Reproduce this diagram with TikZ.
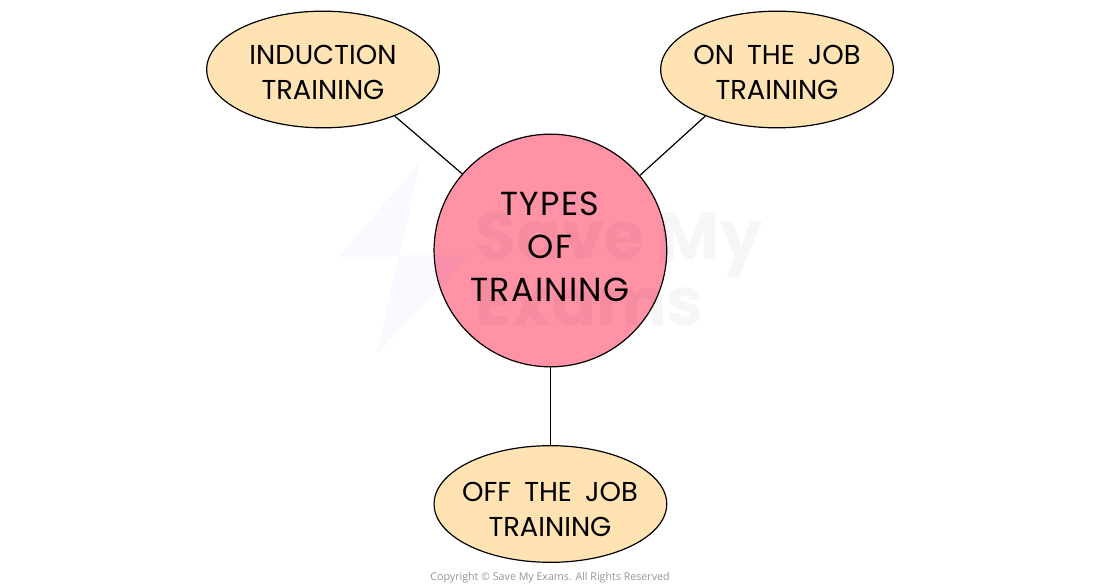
\documentclass[tikz,border=0pt]{standalone}
\usepackage{fontspec}
\setmainfont{Poppins}[WordSpace=1.8]
\newfontfamily\hubfont{Poppins}[LetterSpace=4,WordSpace=2]
\newfontfamily\copyfont{Open Sans}
\newfontfamily\wmfont{Poppins}
\usetikzlibrary{shapes.geometric}
\definecolor{ovalfill}{HTML}{FFE3B3}
\definecolor{hubfill}{HTML}{FF92A5}
\definecolor{boltcol}{HTML}{3366FF}
\tikzset{
 px/.style={x=0.75pt,y=-0.75pt},
 oval/.style={draw=black,line width=0.9pt,fill=ovalfill,ellipse,inner sep=0pt,minimum width=174.5pt,minimum height=87.5pt},
 hub/.style={draw=black,line width=0.9pt,fill=hubfill,circle,inner sep=0pt,minimum size=174.5pt},
 ovaltext/.style={align=center,font=\fontsize{20.5}{26.2}\selectfont},
 hubtext/.style={align=center,font=\hubfont\fontsize{25}{32.3}\selectfont},
 link/.style={draw=black,line width=0.9pt}
}
\begin{document}
\begin{tikzpicture}[px]
\useasboundingbox (0,0) rectangle (1100,588);
\node[hub] (c) at (550.4,250.5) {};
\node[oval] (a) at (323,69.5) {};
\node[oval] (b) at (777,69.5) {};
\node[oval] (d) at (550.4,504) {};
\fill[boltcol,opacity=0.035] (420,162) -- (338,257) -- (398,257) -- (377,354) -- (470,255) -- (400,255) -- cycle;
\node[text=black,opacity=0.035,font=\wmfont\bfseries\fontsize{50}{42}\selectfont,align=left] (wm) at (619,269) {Save My\\Exams};
\draw[link] (a.-33.6) -- (c.139);
\draw[link] (b.213.2) -- (c.40.7);
\draw[link] (c) -- (d);
\node[hubtext] (ct) at (550,247) {TYPES\\OF\\TRAINING};
\node[ovaltext] (at) at (323,72.5) {INDUCTION\\TRAINING};
\node[ovaltext] (bt) at (777,72.5) {ON THE JOB\\TRAINING};
\node[ovaltext] (dt) at (550,509) {OFF THE JOB\\TRAINING};
\node[text=black!42,font=\copyfont\fontsize{8}{10}\selectfont] (cr) at (550,578) {Copyright © Save My Exams. All Rights Reserved};
\end{tikzpicture}
\end{document}
